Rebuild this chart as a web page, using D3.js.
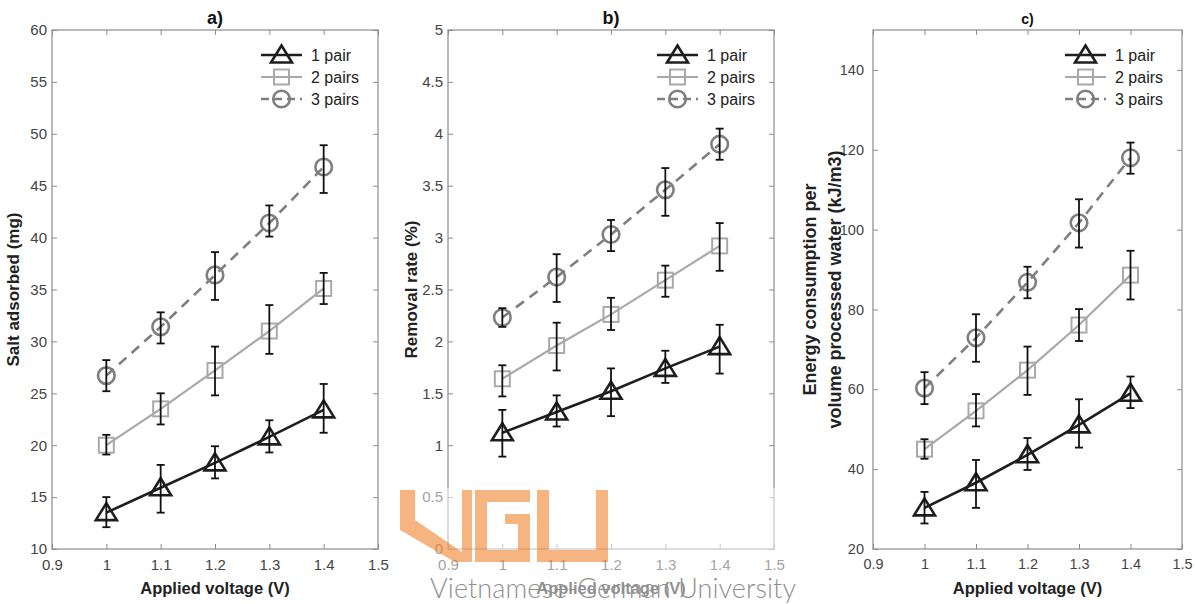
<!DOCTYPE html>
<html lang="en">
<head>
<meta charset="utf-8">
<title>CDI performance vs applied voltage</title>
<script src="https://cdn.jsdelivr.net/npm/d3@7"></script>
<style>
  body { margin: 0; background: #fff; }
  svg { font-family: "Liberation Sans", Arial, sans-serif; }
</style>
</head>
<body>
<svg id="chart" width="1195" height="604"></svg>
<script>
// applied voltage (V)
var voltage = [1.0, 1.1, 1.2, 1.3, 1.4];
var xTicks = [0.9, 1.0, 1.1, 1.2, 1.3, 1.4, 1.5];

// a) salt adsorbed (mg)
var salt1 = [13.5, 15.9, 18.3, 20.8, 23.4];
var salt1Lo = [12.1, 13.5, 16.8, 19.3, 21.2];
var salt1Hi = [15.0, 18.1, 19.9, 22.4, 25.9];
var salt2 = [20.0, 23.5, 27.2, 31.0, 35.1];
var salt2Lo = [19.1, 22.0, 24.8, 28.8, 33.6];
var salt2Hi = [21.0, 25.0, 29.5, 33.5, 36.6];
var salt3 = [26.7, 31.4, 36.4, 41.4, 46.8];
var salt3Lo = [25.2, 29.8, 34.0, 40.1, 44.3];
var salt3Hi = [28.2, 32.8, 38.6, 43.1, 48.9];
var saltTicks = [10, 15, 20, 25, 30, 35, 40, 45, 50, 55, 60];

// b) removal rate (%)
var rem1 = [1.12, 1.32, 1.52, 1.74, 1.95];
var rem1Lo = [0.89, 1.18, 1.28, 1.60, 1.69];
var rem1Hi = [1.34, 1.48, 1.74, 1.91, 2.16];
var rem2 = [1.64, 1.96, 2.26, 2.59, 2.92];
var rem2Lo = [1.47, 1.72, 2.11, 2.43, 2.68];
var rem2Hi = [1.77, 2.18, 2.42, 2.73, 3.14];
var rem3 = [2.23, 2.62, 3.03, 3.46, 3.90];
var rem3Lo = [2.14, 2.38, 2.87, 3.21, 3.75];
var rem3Hi = [2.32, 2.84, 3.17, 3.67, 4.05];
var remTicks = [0, 0.5, 1, 1.5, 2, 2.5, 3, 3.5, 4, 4.5, 5];

// c) energy consumption (kJ/m3)
var en1 = [30.3, 36.6, 43.6, 51.1, 59.0];
var en1Lo = [26.4, 30.3, 39.8, 45.4, 55.3];
var en1Hi = [34.3, 42.3, 47.8, 57.5, 63.2];
var en2 = [45.0, 54.6, 64.8, 76.1, 88.6];
var en2Lo = [42.6, 50.7, 58.6, 72.1, 82.5];
var en2Hi = [47.5, 58.8, 70.7, 80.1, 94.7];
var en3 = [60.3, 72.9, 86.8, 101.7, 118.0];
var en3Lo = [56.3, 66.9, 82.8, 95.5, 114.0];
var en3Hi = [64.3, 78.8, 90.7, 107.6, 121.8];
var enTicks = [20, 40, 60, 80, 100, 120, 140];

var seriesNames = ["1 pair", "2 pairs", "3 pairs"];

var styles = [
  { color: "#1e1e1e", width: 2.6, dash: null, marker: "triangle" },
  { color: "#a9a9a9", width: 2.2, dash: null, marker: "square" },
  { color: "#7f7f7f", width: 2.6, dash: "10,7", marker: "circle" }
];

var panels = [
  { title: "a)", titleSize: 18, left: 52, right: 378, ymin: 10, ymax: 60, yTicks: saltTicks,
    tickSize: 15, yPad: 5,
    ylabel: ["Salt adsorbed (mg)"], ylabelX: [19], ylabelSize: 17,
    mean: [salt1, salt2, salt3], lo: [salt1Lo, salt2Lo, salt3Lo], hi: [salt1Hi, salt2Hi, salt3Hi] },
  { title: "b)", titleSize: 18, left: 448, right: 774, ymin: 0, ymax: 5, yTicks: remTicks,
    tickSize: 15, yPad: 5,
    ylabel: ["Removal rate (%)"], ylabelX: [417], ylabelSize: 17,
    mean: [rem1, rem2, rem3], lo: [rem1Lo, rem2Lo, rem3Lo], hi: [rem1Hi, rem2Hi, rem3Hi] },
  { title: "c)", titleSize: 14, left: 873, right: 1182, ymin: 20, ymax: 150, yTicks: enTicks,
    tickSize: 14.5, yPad: 9,
    ylabel: ["Energy consumption per", "volume processed water (kJ/m3)"], ylabelX: [816, 841], ylabelSize: 18,
    mean: [en1, en2, en3], lo: [en1Lo, en2Lo, en3Lo], hi: [en1Hi, en2Hi, en3Hi] }
];

var plotTop = 30, plotBottom = 549;
var axisColor = "#8c8c8c", tickText = "#444";
var fmt = d3.format("~g");

var svg = d3.select("#chart");

function drawMarker(g, type, st, cx, cy) {
  if (type === "triangle") {
    g.append("path")
      .attr("d", "M" + cx + "," + (cy - 9.5) + "L" + (cx + 10.5) + "," + (cy + 7.5) + "L" + (cx - 10.5) + "," + (cy + 7.5) + "Z")
      .attr("fill", "none").attr("stroke", st.color).attr("stroke-width", 2.6).attr("stroke-linejoin", "miter");
  } else if (type === "square") {
    g.append("rect").attr("x", cx - 7.5).attr("y", cy - 7.5).attr("width", 15).attr("height", 15)
      .attr("fill", "none").attr("stroke", st.color).attr("stroke-width", 2);
  } else {
    g.append("circle").attr("cx", cx).attr("cy", cy).attr("r", 8.3)
      .attr("fill", "none").attr("stroke", st.color).attr("stroke-width", 2.6);
  }
}

panels.forEach(function(p) {
  var x = d3.scaleLinear().domain([0.9, 1.5]).range([p.left, p.right]);
  var y = d3.scaleLinear().domain([p.ymin, p.ymax]).range([plotBottom, plotTop]);
  var g = svg.append("g");

  // axes, ticks inside on all four sides
  g.append("g").attr("transform", "translate(0," + plotBottom + ")")
    .call(d3.axisBottom(x).tickValues(xTicks).tickFormat(fmt).tickSize(-5).tickPadding(10));
  g.append("g").attr("transform", "translate(0," + plotTop + ")")
    .call(d3.axisTop(x).tickValues(xTicks).tickFormat("").tickSize(-5));
  g.append("g").attr("transform", "translate(" + p.left + ",0)")
    .call(d3.axisLeft(y).tickValues(p.yTicks).tickFormat(fmt).tickSize(-5).tickPadding(p.yPad));
  g.append("g").attr("transform", "translate(" + p.right + ",0)")
    .call(d3.axisRight(y).tickValues(p.yTicks).tickFormat("").tickSize(-5));
  g.selectAll(".domain").remove();
  g.selectAll(".tick line").attr("stroke", axisColor);
  g.selectAll(".tick text").attr("fill", tickText).attr("font-size", p.tickSize)
    .attr("font-family", "Liberation Sans, Arial, sans-serif");

  g.append("rect").attr("x", p.left).attr("y", plotTop)
    .attr("width", p.right - p.left).attr("height", plotBottom - plotTop)
    .attr("fill", "none").attr("stroke", axisColor).attr("stroke-width", 1.2);

  // title and labels
  var cxm = (p.left + p.right) / 2;
  g.append("text").attr("x", cxm).attr("y", 24).attr("text-anchor", "middle")
    .attr("font-weight", "bold").attr("font-size", p.titleSize).attr("fill", "#111").text(p.title);
  g.append("text").attr("x", cxm).attr("y", 594).attr("text-anchor", "middle")
    .attr("font-weight", "bold").attr("font-size", 16.5).attr("fill", "#222").text("Applied voltage (V)");
  p.ylabel.forEach(function(t, i) {
    g.append("text")
      .attr("transform", "translate(" + p.ylabelX[i] + "," + ((plotTop + plotBottom) / 2) + ") rotate(-90)")
      .attr("text-anchor", "middle").attr("font-weight", "bold")
      .attr("font-size", p.ylabelSize).attr("fill", "#222").text(t);
  });

  // series
  [2, 1, 0].forEach(function(s) {
    var st = styles[s];
    var pts = voltage.map(function(v, i) { return [v, p.mean[s][i], p.lo[s][i], p.hi[s][i]]; });
    var line = d3.line().x(function(d) { return x(d[0]); }).y(function(d) { return y(d[1]); });
    g.append("path").datum(pts).attr("d", line)
      .attr("fill", "none").attr("stroke", st.color).attr("stroke-width", st.width)
      .attr("stroke-dasharray", st.dash);
    pts.forEach(function(d) {
      drawMarker(g, st.marker, st, x(d[0]), y(d[1]));
    });
    // error bars
    var eb = g.append("g").attr("stroke", "#111").attr("stroke-width", 1.8);
    pts.forEach(function(d) {
      var xx = x(d[0]);
      eb.append("line").attr("x1", xx).attr("x2", xx).attr("y1", y(d[2])).attr("y2", y(d[3]));
      eb.append("line").attr("x1", xx - 4).attr("x2", xx + 4).attr("y1", y(d[2])).attr("y2", y(d[2]));
      eb.append("line").attr("x1", xx - 4).attr("x2", xx + 4).attr("y1", y(d[3])).attr("y2", y(d[3]));
    });
  });

  // legend
  var lx = p.right - 117;
  seriesNames.forEach(function(name, i) {
    var st = styles[i];
    var ly = 55 + i * 22;
    var lg = g.append("g");
    lg.append("line").attr("x1", lx).attr("x2", lx + 41).attr("y1", ly).attr("y2", ly)
      .attr("stroke", st.color).attr("stroke-width", st.width).attr("stroke-dasharray", st.dash ? "8,5" : null);
    drawMarker(lg, st.marker, st, lx + 20.5, ly);
    lg.append("text").attr("x", lx + 50).attr("y", ly + 6).attr("font-size", 16)
      .attr("fill", "#222").text(name);
  });
});

// watermark overlay
var wm = svg.append("g");
wm.append("rect").attr("x", 395).attr("y", 488).attr("width", 405).attr("height", 116)
  .attr("fill", "#fff").attr("opacity", 0.5);
var orange = wm.append("g").attr("fill", "#f07a1a").attr("opacity", 0.55);
orange.append("path").attr("d", "M400,490H415V520L462,552V490H472V562H455L400,530Z");
orange.append("path").attr("d", "M475,490H530V502H487V550H518V524H505V514H530V562H475Z");
orange.append("path").attr("d", "M537,490H549V550H596V490H608V562H537Z");
wm.append("text").attr("x", 430).attr("y", 598).attr("textLength", 366)
  .attr("font-family", "Lato, 'Open Sans', sans-serif").attr("font-weight", 300)
  .attr("font-size", 27).attr("fill", "#8f8f8f").text("Vietnamese-German University");
</script>
</body>
</html>
